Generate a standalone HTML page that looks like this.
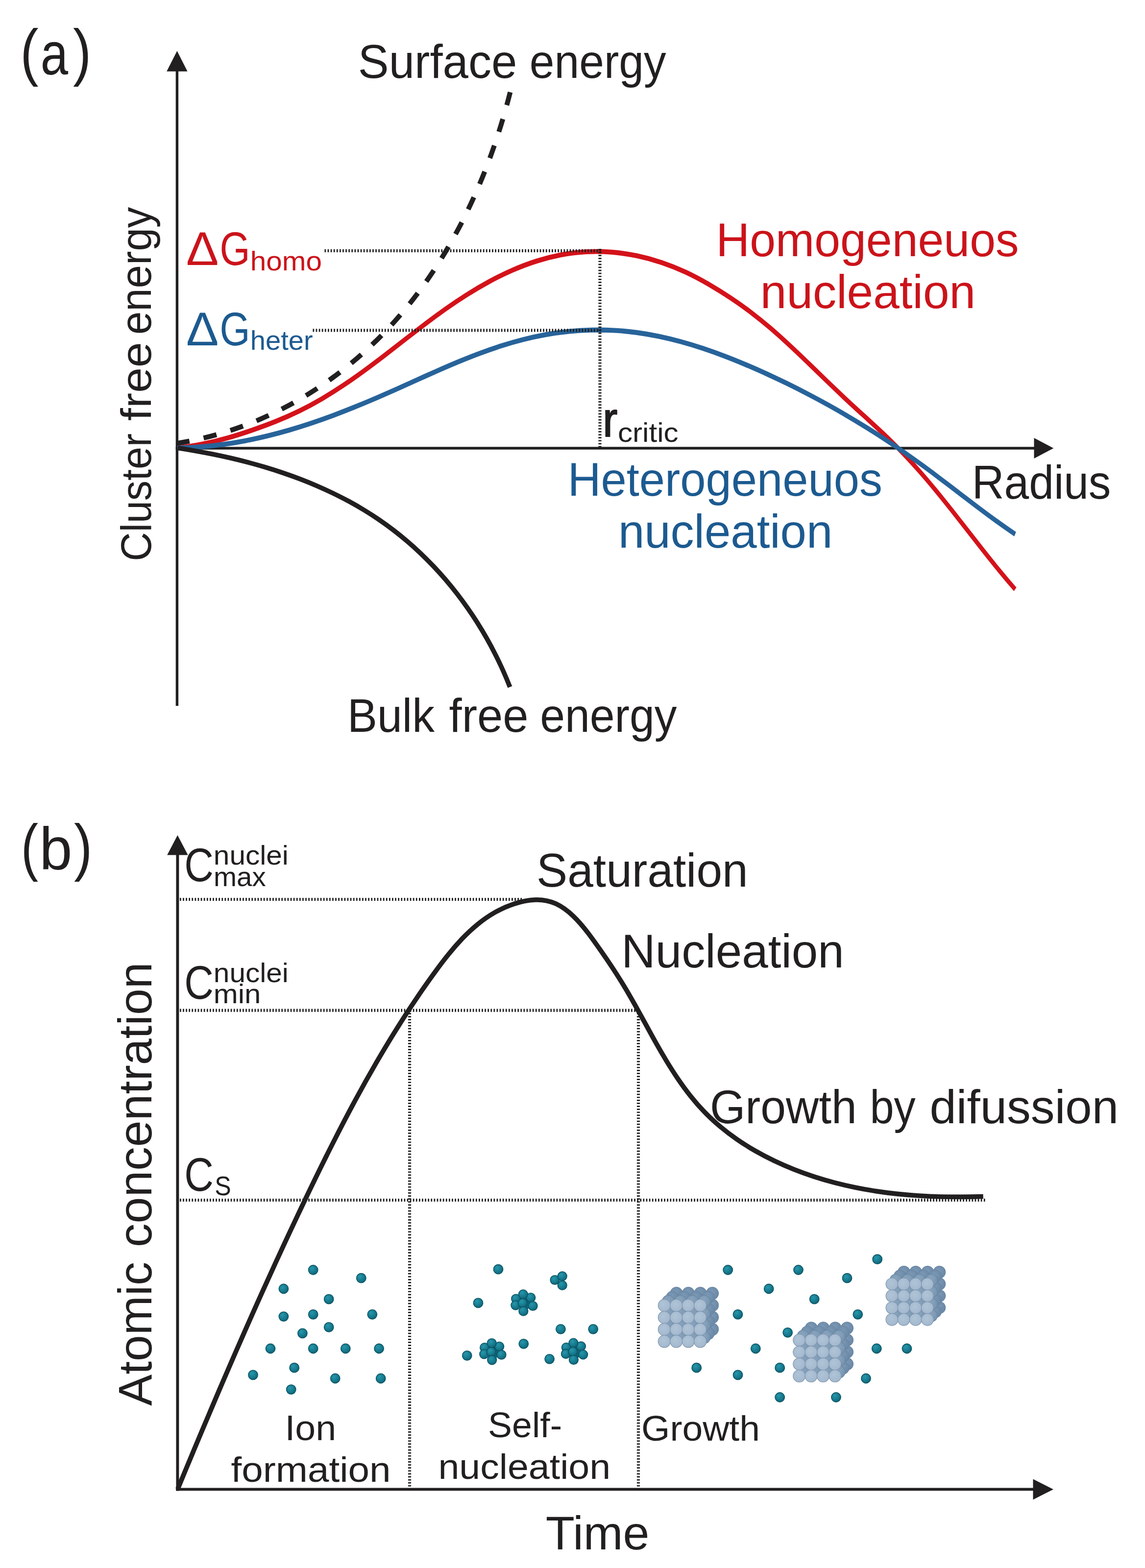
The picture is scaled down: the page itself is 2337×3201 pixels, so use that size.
<!DOCTYPE html>
<html lang="en">
<head>
<meta charset="utf-8">
<title>Nucleation free energy and LaMer growth diagram</title>
<style>
html,body{margin:0;padding:0;background:#fff;}
body{width:2337px;height:3201px;overflow:hidden;}
svg{display:block;}
text{font-family:"Liberation Sans",sans-serif;font-kerning:normal;white-space:pre;stroke-linejoin:round;}
</style>
</head>
<body>
<svg width="2337" height="3201" viewBox="0 0 2337 3201">
<rect width="2337" height="3201" fill="#ffffff"/>
<g id="panel-a" fill="none" stroke-linecap="butt">
<path d="M361.4,1441 V140" stroke="#211f20" stroke-width="5.4"/>
<path d="M361.4,104 L382.6,145.8 H340.2 Z" fill="#211f20" stroke="none"/>
<path d="M358.7,915 H2112" stroke="#211f20" stroke-width="5.4"/>
<path d="M2150.3,915 L2110.5,936 V894 Z" fill="#211f20" stroke="none"/>
<g transform="scale(1,1.3)"><path d="M362.0,703.47 C379.3,702.13 396.4,700.04 413.4,697.38 C430.4,694.71 447.3,691.46 464.1,687.79 C480.8,684.11 497.4,680.01 514.0,675.64 C530.5,671.27 546.9,666.66 563.1,661.67 C579.3,656.68 595.2,651.30 610.8,645.41 C626.4,639.52 641.7,633.14 656.7,626.39 C671.7,619.63 686.4,612.49 700.8,605.07 C715.3,597.64 729.5,589.93 743.5,582.04 C757.5,574.14 771.3,566.06 785.1,557.90 C798.9,549.73 812.6,541.48 826.4,533.26 C840.1,525.03 853.9,516.82 867.8,508.73 C881.7,500.64 895.8,492.67 910.0,484.93 C924.3,477.18 938.8,469.67 953.6,462.49 C968.3,455.31 983.4,448.48 998.7,442.10 C1014.0,435.72 1029.6,429.80 1045.5,424.44 C1061.5,419.09 1077.7,414.30 1094.4,410.21 C1111.0,406.11 1128.0,402.70 1145.1,400.17 C1162.3,397.63 1179.6,396.02 1197.0,395.34 C1214.3,394.67 1231.7,394.91 1248.9,396.01 C1266.2,397.11 1283.4,399.06 1300.4,401.81 C1317.4,404.56 1334.3,408.10 1350.8,412.38 C1367.3,416.66 1383.5,421.67 1399.4,427.35 C1415.2,433.03 1430.6,439.36 1445.7,446.11 C1460.8,452.85 1475.7,459.97 1490.2,467.37 C1504.8,474.78 1519.0,482.51 1532.9,490.59 C1546.7,498.66 1560.2,507.10 1573.4,515.80 C1586.5,524.51 1599.4,533.47 1612.1,542.59 C1624.9,551.70 1637.4,560.97 1650.0,570.29 C1662.5,579.60 1675.0,588.96 1687.5,598.26 C1700.0,607.56 1712.6,616.82 1725.3,626.00 C1738.0,635.17 1750.9,644.22 1763.8,653.23 C1776.6,662.24 1789.5,671.24 1802.2,680.42 C1814.8,689.60 1827.2,698.99 1839.2,708.60 C1851.3,718.22 1863.0,728.05 1874.5,738.07 C1886.1,748.10 1897.3,758.31 1908.4,768.65 C1919.5,778.99 1930.4,789.45 1941.2,799.98 C1952.0,810.50 1962.7,821.10 1973.5,831.69 C1984.2,842.28 1994.9,852.87 2005.7,863.41 C2016.5,873.94 2027.3,884.41 2038.4,894.76 C2049.4,905.11 2060.6,915.34 2072.0,925.38" stroke="#d4121a" stroke-width="7.8"/>
<path d="M362.0,703.46 C377.8,703.28 393.4,702.71 409.0,701.78 C424.6,700.85 440.0,699.55 455.4,697.92 C470.7,696.29 486.0,694.33 501.2,692.07 C516.3,689.81 531.4,687.25 546.4,684.42 C561.4,681.59 576.3,678.49 591.2,675.15 C606.0,671.81 620.7,668.24 635.4,664.46 C650.1,660.68 664.7,656.70 679.3,652.54 C693.8,648.38 708.3,644.05 722.7,639.57 C737.1,635.10 751.5,630.49 765.8,625.76 C780.1,621.03 794.4,616.19 808.6,611.30 C822.8,606.40 837.0,601.45 851.2,596.52 C865.4,591.60 879.5,586.69 893.8,581.88 C908.0,577.06 922.2,572.34 936.6,567.78 C950.9,563.23 965.3,558.83 979.8,554.68 C994.2,550.52 1008.8,546.60 1023.5,542.99 C1038.2,539.38 1053.1,536.08 1068.1,533.16 C1083.0,530.24 1098.2,527.70 1113.5,525.60 C1128.9,523.50 1144.3,521.83 1159.9,520.61 C1175.4,519.38 1191.0,518.61 1206.6,518.30 C1222.2,518.00 1237.7,518.16 1253.2,518.81 C1268.7,519.46 1284.1,520.60 1299.4,522.20 C1314.7,523.79 1329.9,525.82 1345.1,528.25 C1360.2,530.67 1375.2,533.49 1390.1,536.64 C1405.0,539.79 1419.9,543.27 1434.6,547.04 C1449.3,550.80 1464.0,554.85 1478.5,559.12 C1493.1,563.39 1507.5,567.88 1521.9,572.55 C1536.2,577.21 1550.5,582.04 1564.6,587.01 C1578.8,591.98 1592.9,597.10 1606.8,602.35 C1620.8,607.61 1634.7,613.01 1648.4,618.54 C1662.2,624.07 1675.9,629.74 1689.4,635.53 C1703.0,641.33 1716.4,647.26 1729.8,653.32 C1743.2,659.38 1756.4,665.56 1769.6,671.87 C1782.7,678.18 1795.8,684.61 1808.7,691.17 C1821.7,697.73 1834.5,704.42 1847.2,711.23 C1859.9,718.05 1872.5,724.99 1885.1,732.06 C1897.6,739.12 1910.0,746.29 1922.3,753.51 C1934.7,760.73 1947.0,768.00 1959.4,775.27 C1971.7,782.53 1984.0,789.78 1996.5,796.97 C2008.9,804.16 2021.3,811.28 2033.9,818.28 C2046.5,825.28 2059.2,832.15 2072.0,838.85" stroke="#27639a" stroke-width="7.8"/></g>
<path d="M362.7,914.51 C374.7,916.33 386.6,918.29 398.6,920.41 C410.6,922.52 422.6,924.79 434.6,927.23 C446.6,929.66 458.6,932.26 470.5,935.04 C482.5,937.82 494.4,940.77 506.3,943.91 C518.1,947.05 530.0,950.37 541.7,953.90 C553.5,957.42 565.2,961.15 576.8,965.08 C588.5,969.02 600.0,973.16 611.4,977.53 C622.9,981.89 634.2,986.48 645.5,991.30 C656.7,996.11 667.8,1001.17 678.8,1006.46 C689.8,1011.75 700.7,1017.29 711.4,1023.09 C722.1,1028.88 732.6,1034.93 743.0,1041.24 C753.4,1047.56 763.6,1054.14 773.7,1061.00 C783.7,1067.85 793.6,1074.99 803.2,1082.40 C812.9,1089.81 822.3,1097.49 831.6,1105.42 C840.9,1113.35 849.9,1121.54 858.8,1129.96 C867.6,1138.37 876.2,1147.03 884.7,1155.90 C893.1,1164.78 901.3,1173.87 909.3,1183.17 C917.2,1192.46 925.0,1201.96 932.5,1211.65 C940.0,1221.34 947.3,1231.21 954.3,1241.25 C961.4,1251.29 968.2,1261.51 974.7,1271.87 C981.3,1282.24 987.6,1292.76 993.6,1303.42 C999.6,1314.08 1005.4,1324.87 1010.9,1335.79 C1016.5,1346.70 1021.7,1357.74 1026.7,1368.88 C1031.7,1380.02 1036.4,1391.27 1040.8,1402.60" stroke="#211f20" stroke-width="9.6"/>
<path d="M361.8,904.89 C376.5,902.57 391.0,899.79 405.4,896.57 C419.8,893.34 434.0,889.68 448.1,885.58 C462.2,881.49 476.1,876.97 489.8,872.04 C503.5,867.11 517.1,861.78 530.4,856.05 C543.8,850.32 556.9,844.20 569.9,837.70 C582.9,831.21 595.7,824.34 608.2,817.11 C620.8,809.89 633.1,802.30 645.2,794.38 C657.4,786.46 669.3,778.20 680.9,769.61 C692.6,761.03 704.0,752.12 715.2,742.91 C726.4,733.70 737.4,724.18 748.0,714.38 C758.7,704.57 769.2,694.48 779.3,684.12 C789.5,673.76 799.4,663.13 809.0,652.24 C818.6,641.36 827.9,630.22 837.0,618.85 C846.0,607.48 854.8,595.88 863.3,584.07 C871.8,572.26 880.1,560.23 888.1,548.02 C896.0,535.80 903.7,523.40 911.2,510.83 C918.6,498.25 925.8,485.51 932.7,472.62 C939.7,459.73 946.3,446.69 952.7,433.52 C959.1,420.35 965.3,407.05 971.2,393.65 C977.1,380.25 982.8,366.74 988.2,353.14 C993.6,339.55 998.8,325.87 1003.7,312.12 C1008.6,298.37 1013.3,284.56 1017.7,270.70 C1022.2,256.85 1026.4,242.95 1030.3,229.02 C1034.3,215.10 1038.1,201.15 1041.6,187.20" stroke="#211f20" stroke-width="10" stroke-dasharray="27.2 29.6" stroke-dashoffset="2"/>
<path d="M662.5,511.8 H1226" stroke="#1e1e1e" stroke-width="6.2" stroke-dasharray="2.7 3.4"/>
<path d="M638.5,674.3 H1226" stroke="#1e1e1e" stroke-width="6.2" stroke-dasharray="2.7 3.4"/>
<path d="M1224.5,508 V913" stroke="#1e1e1e" stroke-width="6.2" stroke-dasharray="2.7 3.4"/>
</g>
<g id="panel-b" fill="none" stroke-linecap="butt">
<path d="M362.4,3043.5 V1740" stroke="#211f20" stroke-width="5.9"/>
<path d="M362.4,1705 L383.6,1745.5 H341.2 Z" fill="#211f20" stroke="none"/>
<path d="M359.3,3040.4 H2112" stroke="#211f20" stroke-width="5.9"/>
<path d="M2150,3040.4 L2108.5,3061.4 V3019.4 Z" fill="#211f20" stroke="none"/>
<path d="M362.7,3040.00 C368.2,3026.59 373.8,3013.17 379.3,2999.75 C384.9,2986.33 390.5,2972.91 396.1,2959.49 C401.7,2946.07 407.3,2932.65 413.0,2919.23 C418.6,2905.81 424.3,2892.39 430.0,2878.98 C435.7,2865.56 441.4,2852.15 447.1,2838.75 C452.9,2825.34 458.6,2811.94 464.4,2798.55 C470.2,2785.16 476.0,2771.77 481.8,2758.39 C487.7,2745.02 493.5,2731.65 499.4,2718.29 C505.3,2704.94 511.2,2691.59 517.1,2678.26 C523.1,2664.93 529.0,2651.61 535.0,2638.30 C541.0,2625.00 547.0,2611.71 553.1,2598.44 C559.1,2585.16 565.2,2571.91 571.3,2558.67 C577.4,2545.43 583.5,2532.21 589.7,2519.01 C595.9,2505.81 602.1,2492.63 608.3,2479.48 C614.5,2466.32 620.8,2453.19 627.0,2440.08 C633.3,2426.97 639.7,2413.88 646.0,2400.82 C652.4,2387.77 658.8,2374.74 665.3,2361.74 C671.7,2348.74 678.3,2335.78 684.9,2322.85 C691.4,2309.92 698.1,2297.02 704.8,2284.16 C711.6,2271.31 718.4,2258.49 725.3,2245.71 C732.2,2232.94 739.2,2220.21 746.3,2207.52 C753.4,2194.83 760.6,2182.19 767.9,2169.60 C775.2,2157.01 782.7,2144.46 790.2,2131.97 C797.8,2119.49 805.4,2107.05 813.3,2094.67 C821.1,2082.29 829.0,2069.97 837.1,2057.70 C845.2,2045.44 853.4,2033.24 861.8,2021.10 C870.2,2008.96 878.7,1996.88 887.5,1984.88 C896.2,1972.89 905.1,1961.01 914.4,1949.51 C923.6,1938.01 933.2,1926.88 943.2,1916.37 C953.3,1905.85 963.8,1895.95 974.9,1886.92 C986.0,1877.88 997.7,1869.70 1010.1,1862.64 C1022.5,1855.57 1035.7,1849.61 1049.7,1845.02 C1063.7,1840.42 1078.4,1837.26 1092.9,1836.83 C1107.4,1836.40 1121.6,1838.90 1134.6,1844.96 C1147.7,1851.02 1159.7,1860.18 1170.6,1870.72 C1181.6,1881.26 1191.3,1893.02 1200.4,1904.92 C1209.4,1916.83 1218.0,1928.88 1226.3,1940.81 C1234.7,1952.73 1242.8,1964.63 1250.7,1976.63 C1258.6,1988.64 1266.3,2000.74 1273.7,2013.09 C1281.2,2025.44 1288.4,2038.03 1295.6,2050.75 C1302.7,2063.47 1309.8,2076.33 1316.9,2089.21 C1323.9,2102.09 1331.0,2115.00 1338.2,2127.81 C1345.4,2140.63 1352.8,2153.35 1360.3,2165.88 C1367.9,2178.41 1375.7,2190.73 1383.9,2202.75 C1392.1,2214.76 1400.6,2226.47 1409.6,2237.75 C1418.5,2249.03 1428.0,2259.89 1438.0,2270.21 C1448.0,2280.53 1458.6,2290.33 1469.7,2299.61 C1480.7,2308.90 1492.3,2317.67 1504.3,2325.94 C1516.2,2334.21 1528.6,2341.98 1541.2,2349.27 C1553.9,2356.55 1566.9,2363.35 1580.1,2369.68 C1593.3,2376.01 1606.8,2381.87 1620.4,2387.28 C1634.0,2392.68 1647.8,2397.62 1661.6,2402.13 C1675.5,2406.64 1689.5,2410.72 1703.5,2414.39 C1717.6,2418.07 1731.7,2421.34 1746.0,2424.23 C1760.2,2427.13 1774.5,2429.65 1788.9,2431.83 C1803.2,2434.01 1817.7,2435.85 1832.1,2437.37 C1846.6,2438.90 1861.1,2440.10 1875.6,2441.03 C1890.2,2441.95 1904.8,2442.60 1919.3,2442.98 C1933.9,2443.37 1948.5,2443.50 1963.1,2443.41 C1977.7,2443.32 1992.2,2443.00 2006.8,2442.49" stroke="#211f20" stroke-width="9.7" stroke-linejoin="round"/>
<path d="M367,1836 H1066" stroke="#1e1e1e" stroke-width="6.2" stroke-dasharray="2.7 3.4"/>
<path d="M367,2062.6 H1305" stroke="#1e1e1e" stroke-width="6.2" stroke-dasharray="2.7 3.4"/>
<path d="M367,2450 H2012.5" stroke="#1e1e1e" stroke-width="6.2" stroke-dasharray="2.7 3.4"/>
<path d="M836,2062 V3038" stroke="#1e1e1e" stroke-width="6.2" stroke-dasharray="2.7 3.4"/>
<path d="M1303,2062 V3038" stroke="#1e1e1e" stroke-width="6.2" stroke-dasharray="2.7 3.4"/>
</g>
<defs>
<radialGradient id="gT" cx="0.38" cy="0.34" r="0.72"><stop offset="0" stop-color="#2797ab"/><stop offset="0.55" stop-color="#177c90"/><stop offset="1" stop-color="#0f6273"/></radialGradient>
<radialGradient id="gC" cx="0.42" cy="0.4" r="0.7"><stop offset="0" stop-color="#b0c4d7"/><stop offset="0.75" stop-color="#a5bacf"/><stop offset="1" stop-color="#93aac2"/></radialGradient>
<radialGradient id="gD" cx="0.42" cy="0.4" r="0.7"><stop offset="0" stop-color="#8ba6bf"/><stop offset="1" stop-color="#7391ad"/></radialGradient>
<radialGradient id="gE" cx="0.42" cy="0.4" r="0.7"><stop offset="0" stop-color="#7d9ab6"/><stop offset="1" stop-color="#6786a4"/></radialGradient>
</defs>
<g id="particles">
<circle cx="639.2" cy="2592.5" r="9.6" fill="url(#gT)" stroke="#0c5565" stroke-width="1.6"/>
<circle cx="737.3" cy="2609.2" r="9.6" fill="url(#gT)" stroke="#0c5565" stroke-width="1.6"/>
<circle cx="578.9" cy="2631.0" r="9.6" fill="url(#gT)" stroke="#0c5565" stroke-width="1.6"/>
<circle cx="671.2" cy="2652.1" r="9.6" fill="url(#gT)" stroke="#0c5565" stroke-width="1.6"/>
<circle cx="578.9" cy="2687.6" r="9.6" fill="url(#gT)" stroke="#0c5565" stroke-width="1.6"/>
<circle cx="639.2" cy="2683.3" r="9.6" fill="url(#gT)" stroke="#0c5565" stroke-width="1.6"/>
<circle cx="759.8" cy="2683.3" r="9.6" fill="url(#gT)" stroke="#0c5565" stroke-width="1.6"/>
<circle cx="671.2" cy="2709.4" r="9.6" fill="url(#gT)" stroke="#0c5565" stroke-width="1.6"/>
<circle cx="617.4" cy="2721.8" r="9.6" fill="url(#gT)" stroke="#0c5565" stroke-width="1.6"/>
<circle cx="552.0" cy="2753.0" r="9.6" fill="url(#gT)" stroke="#0c5565" stroke-width="1.6"/>
<circle cx="639.2" cy="2753.0" r="9.6" fill="url(#gT)" stroke="#0c5565" stroke-width="1.6"/>
<circle cx="705.3" cy="2753.0" r="9.6" fill="url(#gT)" stroke="#0c5565" stroke-width="1.6"/>
<circle cx="773.6" cy="2753.0" r="9.6" fill="url(#gT)" stroke="#0c5565" stroke-width="1.6"/>
<circle cx="600.7" cy="2792.2" r="9.6" fill="url(#gT)" stroke="#0c5565" stroke-width="1.6"/>
<circle cx="516.5" cy="2806.8" r="9.6" fill="url(#gT)" stroke="#0c5565" stroke-width="1.6"/>
<circle cx="684.2" cy="2814.0" r="9.6" fill="url(#gT)" stroke="#0c5565" stroke-width="1.6"/>
<circle cx="777.2" cy="2814.0" r="9.6" fill="url(#gT)" stroke="#0c5565" stroke-width="1.6"/>
<circle cx="594.2" cy="2836.6" r="9.6" fill="url(#gT)" stroke="#0c5565" stroke-width="1.6"/>
<circle cx="1017.0" cy="2591.2" r="9.6" fill="url(#gT)" stroke="#0c5565" stroke-width="1.6"/>
<circle cx="976.0" cy="2659.9" r="9.6" fill="url(#gT)" stroke="#0c5565" stroke-width="1.6"/>
<circle cx="1144.4" cy="2713.3" r="9.6" fill="url(#gT)" stroke="#0c5565" stroke-width="1.6"/>
<circle cx="1210.7" cy="2713.3" r="9.6" fill="url(#gT)" stroke="#0c5565" stroke-width="1.6"/>
<circle cx="1068.8" cy="2743.3" r="9.6" fill="url(#gT)" stroke="#0c5565" stroke-width="1.6"/>
<circle cx="953.3" cy="2767.3" r="9.6" fill="url(#gT)" stroke="#0c5565" stroke-width="1.6"/>
<circle cx="1121.6" cy="2774.3" r="9.6" fill="url(#gT)" stroke="#0c5565" stroke-width="1.6"/>
<circle cx="1071.2" cy="2659.7" r="14" fill="#0f6579"/>
<circle cx="1053.2" cy="2651.5" r="9.3" fill="url(#gT)" stroke="#0c5565" stroke-width="1.6"/>
<circle cx="1083.3" cy="2649.1" r="9.3" fill="url(#gT)" stroke="#0c5565" stroke-width="1.6"/>
<circle cx="1052.3" cy="2664.6" r="9.3" fill="url(#gT)" stroke="#0c5565" stroke-width="1.6"/>
<circle cx="1087.6" cy="2666.0" r="9.3" fill="url(#gT)" stroke="#0c5565" stroke-width="1.6"/>
<circle cx="1067.8" cy="2642.3" r="9.3" fill="url(#gT)" stroke="#0c5565" stroke-width="1.6"/>
<circle cx="1066.8" cy="2660.2" r="9.3" fill="url(#gT)" stroke="#0c5565" stroke-width="1.6"/>
<circle cx="1068.3" cy="2676.7" r="9.3" fill="url(#gT)" stroke="#0c5565" stroke-width="1.6"/>
<circle cx="1007.1" cy="2759.4" r="14" fill="#0f6579"/>
<circle cx="989.1" cy="2751.2" r="9.3" fill="url(#gT)" stroke="#0c5565" stroke-width="1.6"/>
<circle cx="1019.2" cy="2748.8" r="9.3" fill="url(#gT)" stroke="#0c5565" stroke-width="1.6"/>
<circle cx="988.2" cy="2764.3" r="9.3" fill="url(#gT)" stroke="#0c5565" stroke-width="1.6"/>
<circle cx="1023.5" cy="2765.7" r="9.3" fill="url(#gT)" stroke="#0c5565" stroke-width="1.6"/>
<circle cx="1003.7" cy="2742.0" r="9.3" fill="url(#gT)" stroke="#0c5565" stroke-width="1.6"/>
<circle cx="1002.7" cy="2759.9" r="9.3" fill="url(#gT)" stroke="#0c5565" stroke-width="1.6"/>
<circle cx="1004.2" cy="2776.4" r="9.3" fill="url(#gT)" stroke="#0c5565" stroke-width="1.6"/>
<circle cx="1173.8" cy="2759.0" r="14" fill="#0f6579"/>
<circle cx="1155.8" cy="2750.8" r="9.3" fill="url(#gT)" stroke="#0c5565" stroke-width="1.6"/>
<circle cx="1185.9" cy="2748.4" r="9.3" fill="url(#gT)" stroke="#0c5565" stroke-width="1.6"/>
<circle cx="1154.9" cy="2763.9" r="9.3" fill="url(#gT)" stroke="#0c5565" stroke-width="1.6"/>
<circle cx="1190.2" cy="2765.3" r="9.3" fill="url(#gT)" stroke="#0c5565" stroke-width="1.6"/>
<circle cx="1170.4" cy="2741.6" r="9.3" fill="url(#gT)" stroke="#0c5565" stroke-width="1.6"/>
<circle cx="1169.4" cy="2759.5" r="9.3" fill="url(#gT)" stroke="#0c5565" stroke-width="1.6"/>
<circle cx="1170.9" cy="2776.0" r="9.3" fill="url(#gT)" stroke="#0c5565" stroke-width="1.6"/>
<circle cx="1132.5" cy="2613.0" r="9.3" fill="url(#gT)" stroke="#0c5565" stroke-width="1.6"/>
<circle cx="1147.7" cy="2605.4" r="9.3" fill="url(#gT)" stroke="#0c5565" stroke-width="1.6"/>
<circle cx="1147.7" cy="2623.9" r="9.3" fill="url(#gT)" stroke="#0c5565" stroke-width="1.6"/>
<circle cx="1485.7" cy="2592.5" r="9.6" fill="url(#gT)" stroke="#0c5565" stroke-width="1.6"/>
<circle cx="1629.5" cy="2592.5" r="9.6" fill="url(#gT)" stroke="#0c5565" stroke-width="1.6"/>
<circle cx="1790.7" cy="2570.7" r="9.6" fill="url(#gT)" stroke="#0c5565" stroke-width="1.6"/>
<circle cx="1729.0" cy="2609.2" r="9.6" fill="url(#gT)" stroke="#0c5565" stroke-width="1.6"/>
<circle cx="1569.2" cy="2631.0" r="9.6" fill="url(#gT)" stroke="#0c5565" stroke-width="1.6"/>
<circle cx="1662.2" cy="2652.1" r="9.6" fill="url(#gT)" stroke="#0c5565" stroke-width="1.6"/>
<circle cx="1506.0" cy="2683.3" r="9.6" fill="url(#gT)" stroke="#0c5565" stroke-width="1.6"/>
<circle cx="1750.8" cy="2683.3" r="9.6" fill="url(#gT)" stroke="#0c5565" stroke-width="1.6"/>
<circle cx="1607.7" cy="2720.3" r="9.6" fill="url(#gT)" stroke="#0c5565" stroke-width="1.6"/>
<circle cx="1542.3" cy="2753.0" r="9.6" fill="url(#gT)" stroke="#0c5565" stroke-width="1.6"/>
<circle cx="1789.3" cy="2753.0" r="9.6" fill="url(#gT)" stroke="#0c5565" stroke-width="1.6"/>
<circle cx="1851.0" cy="2753.0" r="9.6" fill="url(#gT)" stroke="#0c5565" stroke-width="1.6"/>
<circle cx="1421.7" cy="2792.2" r="9.6" fill="url(#gT)" stroke="#0c5565" stroke-width="1.6"/>
<circle cx="1506.0" cy="2806.8" r="9.6" fill="url(#gT)" stroke="#0c5565" stroke-width="1.6"/>
<circle cx="1591.7" cy="2792.2" r="9.6" fill="url(#gT)" stroke="#0c5565" stroke-width="1.6"/>
<circle cx="1767.5" cy="2814.0" r="9.6" fill="url(#gT)" stroke="#0c5565" stroke-width="1.6"/>
<circle cx="1591.7" cy="2852.5" r="9.6" fill="url(#gT)" stroke="#0c5565" stroke-width="1.6"/>
<circle cx="1706.5" cy="2852.5" r="9.6" fill="url(#gT)" stroke="#0c5565" stroke-width="1.6"/>
<circle cx="1380.6" cy="2640.3" r="12.6" fill="url(#gE)" stroke="#6a86a3" stroke-width="1.2"/>
<circle cx="1405.0" cy="2640.3" r="12.6" fill="url(#gE)" stroke="#6a86a3" stroke-width="1.2"/>
<circle cx="1429.5" cy="2640.3" r="12.6" fill="url(#gE)" stroke="#6a86a3" stroke-width="1.2"/>
<circle cx="1453.9" cy="2640.3" r="12.6" fill="url(#gE)" stroke="#6a86a3" stroke-width="1.2"/>
<circle cx="1380.6" cy="2664.7" r="12.6" fill="url(#gE)" stroke="#6a86a3" stroke-width="1.2"/>
<circle cx="1405.0" cy="2664.7" r="12.6" fill="url(#gE)" stroke="#6a86a3" stroke-width="1.2"/>
<circle cx="1429.5" cy="2664.7" r="12.6" fill="url(#gE)" stroke="#6a86a3" stroke-width="1.2"/>
<circle cx="1453.9" cy="2664.7" r="12.6" fill="url(#gE)" stroke="#6a86a3" stroke-width="1.2"/>
<circle cx="1380.6" cy="2689.2" r="12.6" fill="url(#gE)" stroke="#6a86a3" stroke-width="1.2"/>
<circle cx="1405.0" cy="2689.2" r="12.6" fill="url(#gE)" stroke="#6a86a3" stroke-width="1.2"/>
<circle cx="1429.5" cy="2689.2" r="12.6" fill="url(#gE)" stroke="#6a86a3" stroke-width="1.2"/>
<circle cx="1453.9" cy="2689.2" r="12.6" fill="url(#gE)" stroke="#6a86a3" stroke-width="1.2"/>
<circle cx="1380.6" cy="2713.6" r="12.6" fill="url(#gE)" stroke="#6a86a3" stroke-width="1.2"/>
<circle cx="1405.0" cy="2713.6" r="12.6" fill="url(#gE)" stroke="#6a86a3" stroke-width="1.2"/>
<circle cx="1429.5" cy="2713.6" r="12.6" fill="url(#gE)" stroke="#6a86a3" stroke-width="1.2"/>
<circle cx="1453.9" cy="2713.6" r="12.6" fill="url(#gE)" stroke="#6a86a3" stroke-width="1.2"/>
<circle cx="1372.4" cy="2648.5" r="12.6" fill="url(#gE)" stroke="#6a86a3" stroke-width="1.2"/>
<circle cx="1396.8" cy="2648.5" r="12.6" fill="url(#gE)" stroke="#6a86a3" stroke-width="1.2"/>
<circle cx="1421.2" cy="2648.5" r="12.6" fill="url(#gE)" stroke="#6a86a3" stroke-width="1.2"/>
<circle cx="1445.7" cy="2648.5" r="12.6" fill="url(#gE)" stroke="#6a86a3" stroke-width="1.2"/>
<circle cx="1372.4" cy="2673.0" r="12.6" fill="url(#gE)" stroke="#6a86a3" stroke-width="1.2"/>
<circle cx="1396.8" cy="2673.0" r="12.6" fill="url(#gE)" stroke="#6a86a3" stroke-width="1.2"/>
<circle cx="1421.2" cy="2673.0" r="12.6" fill="url(#gE)" stroke="#6a86a3" stroke-width="1.2"/>
<circle cx="1445.7" cy="2673.0" r="12.6" fill="url(#gE)" stroke="#6a86a3" stroke-width="1.2"/>
<circle cx="1372.4" cy="2697.4" r="12.6" fill="url(#gE)" stroke="#6a86a3" stroke-width="1.2"/>
<circle cx="1396.8" cy="2697.4" r="12.6" fill="url(#gE)" stroke="#6a86a3" stroke-width="1.2"/>
<circle cx="1421.2" cy="2697.4" r="12.6" fill="url(#gE)" stroke="#6a86a3" stroke-width="1.2"/>
<circle cx="1445.7" cy="2697.4" r="12.6" fill="url(#gE)" stroke="#6a86a3" stroke-width="1.2"/>
<circle cx="1372.4" cy="2721.8" r="12.6" fill="url(#gE)" stroke="#6a86a3" stroke-width="1.2"/>
<circle cx="1396.8" cy="2721.8" r="12.6" fill="url(#gE)" stroke="#6a86a3" stroke-width="1.2"/>
<circle cx="1421.2" cy="2721.8" r="12.6" fill="url(#gE)" stroke="#6a86a3" stroke-width="1.2"/>
<circle cx="1445.7" cy="2721.8" r="12.6" fill="url(#gE)" stroke="#6a86a3" stroke-width="1.2"/>
<circle cx="1364.1" cy="2656.8" r="12.6" fill="url(#gD)" stroke="#6a86a3" stroke-width="1.2"/>
<circle cx="1388.6" cy="2656.8" r="12.6" fill="url(#gD)" stroke="#6a86a3" stroke-width="1.2"/>
<circle cx="1413.0" cy="2656.8" r="12.6" fill="url(#gD)" stroke="#6a86a3" stroke-width="1.2"/>
<circle cx="1437.4" cy="2656.8" r="12.6" fill="url(#gD)" stroke="#6a86a3" stroke-width="1.2"/>
<circle cx="1364.1" cy="2681.2" r="12.6" fill="url(#gD)" stroke="#6a86a3" stroke-width="1.2"/>
<circle cx="1388.6" cy="2681.2" r="12.6" fill="url(#gD)" stroke="#6a86a3" stroke-width="1.2"/>
<circle cx="1413.0" cy="2681.2" r="12.6" fill="url(#gD)" stroke="#6a86a3" stroke-width="1.2"/>
<circle cx="1437.4" cy="2681.2" r="12.6" fill="url(#gD)" stroke="#6a86a3" stroke-width="1.2"/>
<circle cx="1364.1" cy="2705.6" r="12.6" fill="url(#gD)" stroke="#6a86a3" stroke-width="1.2"/>
<circle cx="1388.6" cy="2705.6" r="12.6" fill="url(#gD)" stroke="#6a86a3" stroke-width="1.2"/>
<circle cx="1413.0" cy="2705.6" r="12.6" fill="url(#gD)" stroke="#6a86a3" stroke-width="1.2"/>
<circle cx="1437.4" cy="2705.6" r="12.6" fill="url(#gD)" stroke="#6a86a3" stroke-width="1.2"/>
<circle cx="1364.1" cy="2730.1" r="12.6" fill="url(#gD)" stroke="#6a86a3" stroke-width="1.2"/>
<circle cx="1388.6" cy="2730.1" r="12.6" fill="url(#gD)" stroke="#6a86a3" stroke-width="1.2"/>
<circle cx="1413.0" cy="2730.1" r="12.6" fill="url(#gD)" stroke="#6a86a3" stroke-width="1.2"/>
<circle cx="1437.4" cy="2730.1" r="12.6" fill="url(#gD)" stroke="#6a86a3" stroke-width="1.2"/>
<circle cx="1355.9" cy="2665.0" r="12.6" fill="url(#gC)" stroke="#8097b0" stroke-width="1.2"/>
<circle cx="1380.3" cy="2665.0" r="12.6" fill="url(#gC)" stroke="#8097b0" stroke-width="1.2"/>
<circle cx="1404.8" cy="2665.0" r="12.6" fill="url(#gC)" stroke="#8097b0" stroke-width="1.2"/>
<circle cx="1429.2" cy="2665.0" r="12.6" fill="url(#gC)" stroke="#8097b0" stroke-width="1.2"/>
<circle cx="1355.9" cy="2689.4" r="12.6" fill="url(#gC)" stroke="#8097b0" stroke-width="1.2"/>
<circle cx="1380.3" cy="2689.4" r="12.6" fill="url(#gC)" stroke="#8097b0" stroke-width="1.2"/>
<circle cx="1404.8" cy="2689.4" r="12.6" fill="url(#gC)" stroke="#8097b0" stroke-width="1.2"/>
<circle cx="1429.2" cy="2689.4" r="12.6" fill="url(#gC)" stroke="#8097b0" stroke-width="1.2"/>
<circle cx="1355.9" cy="2713.9" r="12.6" fill="url(#gC)" stroke="#8097b0" stroke-width="1.2"/>
<circle cx="1380.3" cy="2713.9" r="12.6" fill="url(#gC)" stroke="#8097b0" stroke-width="1.2"/>
<circle cx="1404.8" cy="2713.9" r="12.6" fill="url(#gC)" stroke="#8097b0" stroke-width="1.2"/>
<circle cx="1429.2" cy="2713.9" r="12.6" fill="url(#gC)" stroke="#8097b0" stroke-width="1.2"/>
<circle cx="1355.9" cy="2738.3" r="12.6" fill="url(#gC)" stroke="#8097b0" stroke-width="1.2"/>
<circle cx="1380.3" cy="2738.3" r="12.6" fill="url(#gC)" stroke="#8097b0" stroke-width="1.2"/>
<circle cx="1404.8" cy="2738.3" r="12.6" fill="url(#gC)" stroke="#8097b0" stroke-width="1.2"/>
<circle cx="1429.2" cy="2738.3" r="12.6" fill="url(#gC)" stroke="#8097b0" stroke-width="1.2"/>
<circle cx="1655.9" cy="2711.3" r="12.5" fill="url(#gE)" stroke="#6a86a3" stroke-width="1.2"/>
<circle cx="1680.3" cy="2711.3" r="12.5" fill="url(#gE)" stroke="#6a86a3" stroke-width="1.2"/>
<circle cx="1704.7" cy="2711.3" r="12.5" fill="url(#gE)" stroke="#6a86a3" stroke-width="1.2"/>
<circle cx="1729.0" cy="2711.3" r="12.5" fill="url(#gE)" stroke="#6a86a3" stroke-width="1.2"/>
<circle cx="1655.9" cy="2735.6" r="12.5" fill="url(#gE)" stroke="#6a86a3" stroke-width="1.2"/>
<circle cx="1680.3" cy="2735.6" r="12.5" fill="url(#gE)" stroke="#6a86a3" stroke-width="1.2"/>
<circle cx="1704.7" cy="2735.6" r="12.5" fill="url(#gE)" stroke="#6a86a3" stroke-width="1.2"/>
<circle cx="1729.0" cy="2735.6" r="12.5" fill="url(#gE)" stroke="#6a86a3" stroke-width="1.2"/>
<circle cx="1655.9" cy="2760.0" r="12.5" fill="url(#gE)" stroke="#6a86a3" stroke-width="1.2"/>
<circle cx="1680.3" cy="2760.0" r="12.5" fill="url(#gE)" stroke="#6a86a3" stroke-width="1.2"/>
<circle cx="1704.7" cy="2760.0" r="12.5" fill="url(#gE)" stroke="#6a86a3" stroke-width="1.2"/>
<circle cx="1729.0" cy="2760.0" r="12.5" fill="url(#gE)" stroke="#6a86a3" stroke-width="1.2"/>
<circle cx="1655.9" cy="2784.4" r="12.5" fill="url(#gE)" stroke="#6a86a3" stroke-width="1.2"/>
<circle cx="1680.3" cy="2784.4" r="12.5" fill="url(#gE)" stroke="#6a86a3" stroke-width="1.2"/>
<circle cx="1704.7" cy="2784.4" r="12.5" fill="url(#gE)" stroke="#6a86a3" stroke-width="1.2"/>
<circle cx="1729.0" cy="2784.4" r="12.5" fill="url(#gE)" stroke="#6a86a3" stroke-width="1.2"/>
<circle cx="1647.7" cy="2719.5" r="12.5" fill="url(#gE)" stroke="#6a86a3" stroke-width="1.2"/>
<circle cx="1672.1" cy="2719.5" r="12.5" fill="url(#gE)" stroke="#6a86a3" stroke-width="1.2"/>
<circle cx="1696.4" cy="2719.5" r="12.5" fill="url(#gE)" stroke="#6a86a3" stroke-width="1.2"/>
<circle cx="1720.8" cy="2719.5" r="12.5" fill="url(#gE)" stroke="#6a86a3" stroke-width="1.2"/>
<circle cx="1647.7" cy="2743.9" r="12.5" fill="url(#gE)" stroke="#6a86a3" stroke-width="1.2"/>
<circle cx="1672.1" cy="2743.9" r="12.5" fill="url(#gE)" stroke="#6a86a3" stroke-width="1.2"/>
<circle cx="1696.4" cy="2743.9" r="12.5" fill="url(#gE)" stroke="#6a86a3" stroke-width="1.2"/>
<circle cx="1720.8" cy="2743.9" r="12.5" fill="url(#gE)" stroke="#6a86a3" stroke-width="1.2"/>
<circle cx="1647.7" cy="2768.2" r="12.5" fill="url(#gE)" stroke="#6a86a3" stroke-width="1.2"/>
<circle cx="1672.1" cy="2768.2" r="12.5" fill="url(#gE)" stroke="#6a86a3" stroke-width="1.2"/>
<circle cx="1696.4" cy="2768.2" r="12.5" fill="url(#gE)" stroke="#6a86a3" stroke-width="1.2"/>
<circle cx="1720.8" cy="2768.2" r="12.5" fill="url(#gE)" stroke="#6a86a3" stroke-width="1.2"/>
<circle cx="1647.7" cy="2792.6" r="12.5" fill="url(#gE)" stroke="#6a86a3" stroke-width="1.2"/>
<circle cx="1672.1" cy="2792.6" r="12.5" fill="url(#gE)" stroke="#6a86a3" stroke-width="1.2"/>
<circle cx="1696.4" cy="2792.6" r="12.5" fill="url(#gE)" stroke="#6a86a3" stroke-width="1.2"/>
<circle cx="1720.8" cy="2792.6" r="12.5" fill="url(#gE)" stroke="#6a86a3" stroke-width="1.2"/>
<circle cx="1639.5" cy="2727.7" r="12.5" fill="url(#gD)" stroke="#6a86a3" stroke-width="1.2"/>
<circle cx="1663.9" cy="2727.7" r="12.5" fill="url(#gD)" stroke="#6a86a3" stroke-width="1.2"/>
<circle cx="1688.2" cy="2727.7" r="12.5" fill="url(#gD)" stroke="#6a86a3" stroke-width="1.2"/>
<circle cx="1712.6" cy="2727.7" r="12.5" fill="url(#gD)" stroke="#6a86a3" stroke-width="1.2"/>
<circle cx="1639.5" cy="2752.1" r="12.5" fill="url(#gD)" stroke="#6a86a3" stroke-width="1.2"/>
<circle cx="1663.9" cy="2752.1" r="12.5" fill="url(#gD)" stroke="#6a86a3" stroke-width="1.2"/>
<circle cx="1688.2" cy="2752.1" r="12.5" fill="url(#gD)" stroke="#6a86a3" stroke-width="1.2"/>
<circle cx="1712.6" cy="2752.1" r="12.5" fill="url(#gD)" stroke="#6a86a3" stroke-width="1.2"/>
<circle cx="1639.5" cy="2776.4" r="12.5" fill="url(#gD)" stroke="#6a86a3" stroke-width="1.2"/>
<circle cx="1663.9" cy="2776.4" r="12.5" fill="url(#gD)" stroke="#6a86a3" stroke-width="1.2"/>
<circle cx="1688.2" cy="2776.4" r="12.5" fill="url(#gD)" stroke="#6a86a3" stroke-width="1.2"/>
<circle cx="1712.6" cy="2776.4" r="12.5" fill="url(#gD)" stroke="#6a86a3" stroke-width="1.2"/>
<circle cx="1639.5" cy="2800.8" r="12.5" fill="url(#gD)" stroke="#6a86a3" stroke-width="1.2"/>
<circle cx="1663.9" cy="2800.8" r="12.5" fill="url(#gD)" stroke="#6a86a3" stroke-width="1.2"/>
<circle cx="1688.2" cy="2800.8" r="12.5" fill="url(#gD)" stroke="#6a86a3" stroke-width="1.2"/>
<circle cx="1712.6" cy="2800.8" r="12.5" fill="url(#gD)" stroke="#6a86a3" stroke-width="1.2"/>
<circle cx="1631.3" cy="2735.9" r="12.5" fill="url(#gC)" stroke="#8097b0" stroke-width="1.2"/>
<circle cx="1655.6" cy="2735.9" r="12.5" fill="url(#gC)" stroke="#8097b0" stroke-width="1.2"/>
<circle cx="1680.0" cy="2735.9" r="12.5" fill="url(#gC)" stroke="#8097b0" stroke-width="1.2"/>
<circle cx="1704.4" cy="2735.9" r="12.5" fill="url(#gC)" stroke="#8097b0" stroke-width="1.2"/>
<circle cx="1631.3" cy="2760.3" r="12.5" fill="url(#gC)" stroke="#8097b0" stroke-width="1.2"/>
<circle cx="1655.6" cy="2760.3" r="12.5" fill="url(#gC)" stroke="#8097b0" stroke-width="1.2"/>
<circle cx="1680.0" cy="2760.3" r="12.5" fill="url(#gC)" stroke="#8097b0" stroke-width="1.2"/>
<circle cx="1704.4" cy="2760.3" r="12.5" fill="url(#gC)" stroke="#8097b0" stroke-width="1.2"/>
<circle cx="1631.3" cy="2784.7" r="12.5" fill="url(#gC)" stroke="#8097b0" stroke-width="1.2"/>
<circle cx="1655.6" cy="2784.7" r="12.5" fill="url(#gC)" stroke="#8097b0" stroke-width="1.2"/>
<circle cx="1680.0" cy="2784.7" r="12.5" fill="url(#gC)" stroke="#8097b0" stroke-width="1.2"/>
<circle cx="1704.4" cy="2784.7" r="12.5" fill="url(#gC)" stroke="#8097b0" stroke-width="1.2"/>
<circle cx="1631.3" cy="2809.0" r="12.5" fill="url(#gC)" stroke="#8097b0" stroke-width="1.2"/>
<circle cx="1655.6" cy="2809.0" r="12.5" fill="url(#gC)" stroke="#8097b0" stroke-width="1.2"/>
<circle cx="1680.0" cy="2809.0" r="12.5" fill="url(#gC)" stroke="#8097b0" stroke-width="1.2"/>
<circle cx="1704.4" cy="2809.0" r="12.5" fill="url(#gC)" stroke="#8097b0" stroke-width="1.2"/>
<circle cx="1844.9" cy="2597.0" r="12.4" fill="url(#gE)" stroke="#6a86a3" stroke-width="1.2"/>
<circle cx="1869.0" cy="2597.0" r="12.4" fill="url(#gE)" stroke="#6a86a3" stroke-width="1.2"/>
<circle cx="1893.2" cy="2597.0" r="12.4" fill="url(#gE)" stroke="#6a86a3" stroke-width="1.2"/>
<circle cx="1917.3" cy="2597.0" r="12.4" fill="url(#gE)" stroke="#6a86a3" stroke-width="1.2"/>
<circle cx="1844.9" cy="2621.1" r="12.4" fill="url(#gE)" stroke="#6a86a3" stroke-width="1.2"/>
<circle cx="1869.0" cy="2621.1" r="12.4" fill="url(#gE)" stroke="#6a86a3" stroke-width="1.2"/>
<circle cx="1893.2" cy="2621.1" r="12.4" fill="url(#gE)" stroke="#6a86a3" stroke-width="1.2"/>
<circle cx="1917.3" cy="2621.1" r="12.4" fill="url(#gE)" stroke="#6a86a3" stroke-width="1.2"/>
<circle cx="1844.9" cy="2645.3" r="12.4" fill="url(#gE)" stroke="#6a86a3" stroke-width="1.2"/>
<circle cx="1869.0" cy="2645.3" r="12.4" fill="url(#gE)" stroke="#6a86a3" stroke-width="1.2"/>
<circle cx="1893.2" cy="2645.3" r="12.4" fill="url(#gE)" stroke="#6a86a3" stroke-width="1.2"/>
<circle cx="1917.3" cy="2645.3" r="12.4" fill="url(#gE)" stroke="#6a86a3" stroke-width="1.2"/>
<circle cx="1844.9" cy="2669.4" r="12.4" fill="url(#gE)" stroke="#6a86a3" stroke-width="1.2"/>
<circle cx="1869.0" cy="2669.4" r="12.4" fill="url(#gE)" stroke="#6a86a3" stroke-width="1.2"/>
<circle cx="1893.2" cy="2669.4" r="12.4" fill="url(#gE)" stroke="#6a86a3" stroke-width="1.2"/>
<circle cx="1917.3" cy="2669.4" r="12.4" fill="url(#gE)" stroke="#6a86a3" stroke-width="1.2"/>
<circle cx="1836.8" cy="2605.1" r="12.4" fill="url(#gE)" stroke="#6a86a3" stroke-width="1.2"/>
<circle cx="1860.9" cy="2605.1" r="12.4" fill="url(#gE)" stroke="#6a86a3" stroke-width="1.2"/>
<circle cx="1885.0" cy="2605.1" r="12.4" fill="url(#gE)" stroke="#6a86a3" stroke-width="1.2"/>
<circle cx="1909.2" cy="2605.1" r="12.4" fill="url(#gE)" stroke="#6a86a3" stroke-width="1.2"/>
<circle cx="1836.8" cy="2629.3" r="12.4" fill="url(#gE)" stroke="#6a86a3" stroke-width="1.2"/>
<circle cx="1860.9" cy="2629.3" r="12.4" fill="url(#gE)" stroke="#6a86a3" stroke-width="1.2"/>
<circle cx="1885.0" cy="2629.3" r="12.4" fill="url(#gE)" stroke="#6a86a3" stroke-width="1.2"/>
<circle cx="1909.2" cy="2629.3" r="12.4" fill="url(#gE)" stroke="#6a86a3" stroke-width="1.2"/>
<circle cx="1836.8" cy="2653.4" r="12.4" fill="url(#gE)" stroke="#6a86a3" stroke-width="1.2"/>
<circle cx="1860.9" cy="2653.4" r="12.4" fill="url(#gE)" stroke="#6a86a3" stroke-width="1.2"/>
<circle cx="1885.0" cy="2653.4" r="12.4" fill="url(#gE)" stroke="#6a86a3" stroke-width="1.2"/>
<circle cx="1909.2" cy="2653.4" r="12.4" fill="url(#gE)" stroke="#6a86a3" stroke-width="1.2"/>
<circle cx="1836.8" cy="2677.5" r="12.4" fill="url(#gE)" stroke="#6a86a3" stroke-width="1.2"/>
<circle cx="1860.9" cy="2677.5" r="12.4" fill="url(#gE)" stroke="#6a86a3" stroke-width="1.2"/>
<circle cx="1885.0" cy="2677.5" r="12.4" fill="url(#gE)" stroke="#6a86a3" stroke-width="1.2"/>
<circle cx="1909.2" cy="2677.5" r="12.4" fill="url(#gE)" stroke="#6a86a3" stroke-width="1.2"/>
<circle cx="1828.6" cy="2613.3" r="12.4" fill="url(#gD)" stroke="#6a86a3" stroke-width="1.2"/>
<circle cx="1852.8" cy="2613.3" r="12.4" fill="url(#gD)" stroke="#6a86a3" stroke-width="1.2"/>
<circle cx="1876.9" cy="2613.3" r="12.4" fill="url(#gD)" stroke="#6a86a3" stroke-width="1.2"/>
<circle cx="1901.0" cy="2613.3" r="12.4" fill="url(#gD)" stroke="#6a86a3" stroke-width="1.2"/>
<circle cx="1828.6" cy="2637.4" r="12.4" fill="url(#gD)" stroke="#6a86a3" stroke-width="1.2"/>
<circle cx="1852.8" cy="2637.4" r="12.4" fill="url(#gD)" stroke="#6a86a3" stroke-width="1.2"/>
<circle cx="1876.9" cy="2637.4" r="12.4" fill="url(#gD)" stroke="#6a86a3" stroke-width="1.2"/>
<circle cx="1901.0" cy="2637.4" r="12.4" fill="url(#gD)" stroke="#6a86a3" stroke-width="1.2"/>
<circle cx="1828.6" cy="2661.5" r="12.4" fill="url(#gD)" stroke="#6a86a3" stroke-width="1.2"/>
<circle cx="1852.8" cy="2661.5" r="12.4" fill="url(#gD)" stroke="#6a86a3" stroke-width="1.2"/>
<circle cx="1876.9" cy="2661.5" r="12.4" fill="url(#gD)" stroke="#6a86a3" stroke-width="1.2"/>
<circle cx="1901.0" cy="2661.5" r="12.4" fill="url(#gD)" stroke="#6a86a3" stroke-width="1.2"/>
<circle cx="1828.6" cy="2685.7" r="12.4" fill="url(#gD)" stroke="#6a86a3" stroke-width="1.2"/>
<circle cx="1852.8" cy="2685.7" r="12.4" fill="url(#gD)" stroke="#6a86a3" stroke-width="1.2"/>
<circle cx="1876.9" cy="2685.7" r="12.4" fill="url(#gD)" stroke="#6a86a3" stroke-width="1.2"/>
<circle cx="1901.0" cy="2685.7" r="12.4" fill="url(#gD)" stroke="#6a86a3" stroke-width="1.2"/>
<circle cx="1820.5" cy="2621.4" r="12.4" fill="url(#gC)" stroke="#8097b0" stroke-width="1.2"/>
<circle cx="1844.6" cy="2621.4" r="12.4" fill="url(#gC)" stroke="#8097b0" stroke-width="1.2"/>
<circle cx="1868.8" cy="2621.4" r="12.4" fill="url(#gC)" stroke="#8097b0" stroke-width="1.2"/>
<circle cx="1892.9" cy="2621.4" r="12.4" fill="url(#gC)" stroke="#8097b0" stroke-width="1.2"/>
<circle cx="1820.5" cy="2645.5" r="12.4" fill="url(#gC)" stroke="#8097b0" stroke-width="1.2"/>
<circle cx="1844.6" cy="2645.5" r="12.4" fill="url(#gC)" stroke="#8097b0" stroke-width="1.2"/>
<circle cx="1868.8" cy="2645.5" r="12.4" fill="url(#gC)" stroke="#8097b0" stroke-width="1.2"/>
<circle cx="1892.9" cy="2645.5" r="12.4" fill="url(#gC)" stroke="#8097b0" stroke-width="1.2"/>
<circle cx="1820.5" cy="2669.7" r="12.4" fill="url(#gC)" stroke="#8097b0" stroke-width="1.2"/>
<circle cx="1844.6" cy="2669.7" r="12.4" fill="url(#gC)" stroke="#8097b0" stroke-width="1.2"/>
<circle cx="1868.8" cy="2669.7" r="12.4" fill="url(#gC)" stroke="#8097b0" stroke-width="1.2"/>
<circle cx="1892.9" cy="2669.7" r="12.4" fill="url(#gC)" stroke="#8097b0" stroke-width="1.2"/>
<circle cx="1820.5" cy="2693.8" r="12.4" fill="url(#gC)" stroke="#8097b0" stroke-width="1.2"/>
<circle cx="1844.6" cy="2693.8" r="12.4" fill="url(#gC)" stroke="#8097b0" stroke-width="1.2"/>
<circle cx="1868.8" cy="2693.8" r="12.4" fill="url(#gC)" stroke="#8097b0" stroke-width="1.2"/>
<circle cx="1892.9" cy="2693.8" r="12.4" fill="url(#gC)" stroke="#8097b0" stroke-width="1.2"/>
</g>
<g id="labels" xml:space="preserve">
<g><text transform="translate(41.25,150.00) scale(0.9180,1.0492)" font-size="122" fill="#211f20">(</text><text transform="translate(82.84,152.00) scale(0.8301,1.0000)" font-size="122" fill="#211f20">a</text><text transform="translate(149.00,150.00) scale(0.9180,1.0492)" font-size="122" fill="#211f20">)</text></g>
<g><text transform="translate(730.86,159.30) scale(0.9813,1.0000)" font-size="96" fill="#211f20">Surface</text><text transform="translate(1055.41,159.30) scale(0.9500,1.0000)" font-size="96" fill="#211f20"> energy</text></g>
<g><text transform="translate(380.05,541.00) scale(1.0333,1.0000)" font-size="96" fill="#cb131a">Δ</text><text transform="translate(448.56,541.00) scale(0.8302,1.0000)" font-size="96" fill="#cb131a">G</text><text transform="translate(510.64,551.70) scale(1.0453,1.0000)" font-size="56" fill="#cb131a">homo</text></g>
<g><text transform="translate(380.05,704.70) scale(1.0333,1.0000)" font-size="96" fill="#1c5a90">Δ</text><text transform="translate(448.56,704.70) scale(0.8302,1.0000)" font-size="96" fill="#1c5a90">G</text><text transform="translate(510.80,714.40) scale(1.0011,1.0000)" font-size="56" fill="#1c5a90">heter</text></g>
<g><text transform="translate(1461.58,522.90) scale(0.9897,1.0000)" font-size="96" fill="#cb131a">Homogeneuos</text><text transform="translate(1525.11,628.80) scale(1.0036,1.0000)" font-size="96" fill="#cb131a"> nucleation</text></g>
<g><text transform="translate(1230.25,890.90) scale(0.9035,1.0000)" font-size="100" fill="#211f20" stroke="#211f20" stroke-width="2.2">r</text><text transform="translate(1261.02,901.90) scale(1.0741,1.0000)" font-size="56" fill="#211f20">critic</text></g>
<g><text transform="translate(1158.66,1012.00) scale(0.9784,1.0000)" font-size="96" fill="#1c5a90">Heterogeneuos</text><text transform="translate(1235.24,1118.40) scale(0.9996,1.0000)" font-size="96" fill="#1c5a90"> nucleation</text></g>
<g><text transform="translate(1983.78,1017.90) scale(0.9493,1.0000)" font-size="96" fill="#211f20">Radius</text></g>
<g><text transform="translate(708.95,1493.50) scale(0.9527,1.0000)" font-size="96" fill="#211f20">Bulk</text><text transform="translate(890.48,1493.50) scale(0.9794,1.0000)" font-size="96" fill="#211f20"> free</text><text transform="translate(1076.75,1493.50) scale(0.9520,1.0000)" font-size="96" fill="#211f20"> energy</text></g>
<g><text transform="translate(308.20,1145.87) rotate(-90) scale(0.9373,1.0000)" font-size="88" fill="#211f20">Cluster</text><text transform="translate(308.20,884.89) rotate(-90) scale(1.0590,1.0000)" font-size="88" fill="#211f20"> free</text><text transform="translate(308.20,706.73) rotate(-90) scale(0.9680,1.0000)" font-size="88" fill="#211f20"> energy</text></g>
<g><text transform="translate(42.63,1773.18) scale(0.8685,1.0423)" font-size="122" fill="#211f20">(</text><text transform="translate(80.38,1774.60) scale(0.9859,1.0000)" font-size="122" fill="#211f20">b</text><text transform="translate(151.10,1773.18) scale(0.9209,1.0423)" font-size="122" fill="#211f20">)</text></g>
<g><text transform="translate(376.32,1798.80) scale(0.8618,1.0000)" font-size="96" fill="#211f20">C</text><text transform="translate(435.84,1764.80) scale(1.0458,1.0000)" font-size="56" fill="#211f20">nuclei</text><text transform="translate(435.97,1808.60) scale(1.0098,1.0000)" font-size="56" fill="#211f20">max</text></g>
<g><text transform="translate(376.32,2038.50) scale(0.8618,1.0000)" font-size="96" fill="#211f20">C</text><text transform="translate(435.84,2004.50) scale(1.0458,1.0000)" font-size="56" fill="#211f20">nuclei</text><text transform="translate(435.75,2048.10) scale(1.0719,1.0000)" font-size="56" fill="#211f20">min</text></g>
<g><text transform="translate(376.32,2430.50) scale(0.8618,1.0000)" font-size="96" fill="#211f20">C</text><text transform="translate(438.13,2439.50) scale(0.8962,1.0000)" font-size="56" fill="#211f20">S</text></g>
<g><text transform="translate(1095.04,1810.00) scale(0.9866,1.0000)" font-size="96" fill="#211f20">Saturation</text></g>
<g><text transform="translate(1268.29,1975.00) scale(1.0020,1.0000)" font-size="96" fill="#211f20">Nucleation</text></g>
<g><text transform="translate(1448.94,2292.50) scale(0.9692,1.0000)" font-size="96" fill="#211f20">Growth</text><text transform="translate(1750.93,2292.50) scale(0.9204,1.0000)" font-size="96" fill="#211f20"> by</text><text transform="translate(1870.42,2292.50) scale(1.0173,1.0000)" font-size="96" fill="#211f20"> difussion</text></g>
<g><text transform="translate(581.42,2940.30) scale(1.0319,1.0000)" font-size="73" fill="#211f20">Ion</text><text transform="translate(449.87,3025.40) scale(1.0713,1.0000)" font-size="73" fill="#211f20"> formation</text></g>
<g><text transform="translate(996.10,2934.00) scale(1.0063,1.0000)" font-size="73" fill="#211f20">Self-</text><text transform="translate(894.38,3019.00) scale(1.0569,1.0000)" font-size="73" fill="#211f20">nucleation</text></g>
<g><text transform="translate(1308.98,2940.60) scale(1.0287,1.0000)" font-size="73" fill="#211f20">Growth</text></g>
<g><text transform="translate(1113.69,3162.50) scale(1.0089,1.0000)" font-size="96" fill="#211f20">Time</text></g>
<g><text transform="translate(309.30,2870.00) rotate(-90) scale(1.0031,1.0000)" font-size="96" fill="#211f20">Atomic</text><text transform="translate(309.30,2572.84) rotate(-90) scale(1.0092,1.0000)" font-size="96" fill="#211f20"> concentration</text></g>
</g>
</svg>
</body>
</html>
